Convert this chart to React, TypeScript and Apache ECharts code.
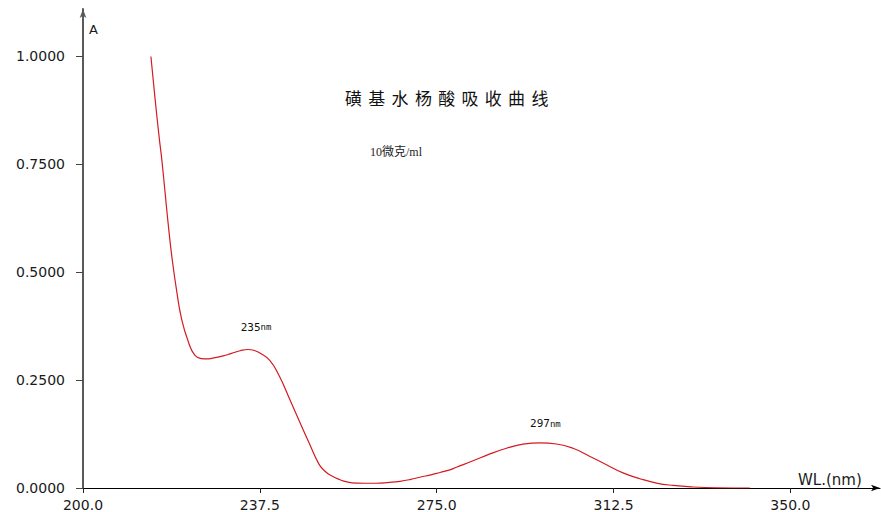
import React, { useEffect, useRef } from "react";
import * as echarts from "echarts";

// Absorption spectrum of sulfosalicylic acid (wavelength in nm, absorbance A)
const wavelengths = [
  214.4, 215.3, 216.2, 216.7, 217.4, 218.1, 218.9, 219.9, 220.9, 222.3,
  223.7, 225.2, 226.2, 227.5, 229.7, 231.5, 233.3, 235.0, 236.5, 237.5,
  239.6, 241.6, 243.9, 246.0, 248.0, 250.0, 251.2, 252.4, 254.5,
  256.0, 258.0, 262.0, 265.0, 267.2, 269.5, 271.4, 274.0, 275.7, 277.8,
  279.2, 282.7, 286.3, 289.8, 293.3, 297.0, 300.4, 303.9, 307.5, 311.0,
  314.5, 318.1, 321.6, 325.1, 329.4, 334.3, 341.4,
];
const absorbance = [
  1.0, 0.9, 0.808, 0.762, 0.685, 0.608, 0.531, 0.454, 0.392, 0.34,
  0.308, 0.3, 0.299, 0.301, 0.306, 0.312, 0.318, 0.321, 0.318, 0.313,
  0.296, 0.26, 0.204, 0.152, 0.103, 0.056, 0.04, 0.03, 0.019,
  0.014, 0.0115, 0.011, 0.013, 0.0155, 0.02, 0.025, 0.031, 0.036, 0.042,
  0.048, 0.063, 0.079, 0.092, 0.1015, 0.1046, 0.102, 0.092, 0.073, 0.054,
  0.035, 0.0215, 0.0115, 0.006, 0.0023, 0.0005, 0.0,
];

// Peak wavelengths annotated on the curve
const peaks = [235, 297];
const peakLabelOffsets: [number, number][] = [
  [8, -22],
  [5, -19],
];

const xTicks = [200, 237.5, 275, 312.5, 350];
const yTicks = [0, 0.25, 0.5, 0.75, 1.0];

const titleText = "磺基水杨酸吸收曲线";
const concentrationText = "10微克/ml";

export default function App() {
  const ref = useRef<HTMLDivElement>(null);

  useEffect(() => {
    if (!ref.current) return;
    const chart = echarts.init(ref.current, undefined, { renderer: "svg" });

    const seriesData = wavelengths.map((w, i) => [w, absorbance[i]]);
    const peakMarks = peaks.map((p, i) => {
      const idx = wavelengths.indexOf(p);
      return {
        coord: [p, absorbance[idx]],
        value: p,
        label: { offset: peakLabelOffsets[i] },
      };
    });

    const titleChars = Array.from(titleText).map((ch, i) => ({
      type: "text",
      left: 345 + i * 23.3,
      top: 89,
      style: {
        text: ch,
        fontSize: 17,
        fontFamily: "Noto Sans CJK SC",
        fill: "#111111",
      },
    }));

    chart.setOption({
      animation: false,
      backgroundColor: "#ffffff",
      grid: { left: 83, right: 1, top: 9, bottom: 22 },
      xAxis: {
        type: "value",
        min: 200,
        max: 369,
        axisLine: {
          show: true,
          symbol: ["none", "arrow"],
          symbolSize: [5, 9],
          lineStyle: { color: "#000000", width: 1.2 },
        },
        axisTick: {
          show: true,
          customValues: xTicks,
          length: 5,
          lineStyle: { color: "#222222", width: 1 },
        },
        axisLabel: {
          customValues: xTicks,
          formatter: (v: number) => v.toFixed(1),
          margin: 10,
          fontFamily: "DejaVu Sans",
          fontSize: 14,
          color: "#1a1a1a",
        },
        splitLine: { show: false },
      },
      yAxis: {
        type: "value",
        min: 0,
        max: 1.11,
        axisLine: {
          show: true,
          symbol: ["none", "arrow"],
          symbolSize: [5, 9],
          lineStyle: { color: "#5a5a5a", width: 2 },
        },
        axisTick: {
          show: true,
          customValues: yTicks,
          length: 7,
          lineStyle: { color: "#444444", width: 1 },
        },
        axisLabel: {
          customValues: yTicks,
          formatter: (v: number) => v.toFixed(4),
          margin: 18,
          fontFamily: "DejaVu Sans",
          fontSize: 14,
          color: "#1a1a1a",
        },
        splitLine: { show: false },
      },
      series: [
        {
          type: "line",
          data: seriesData,
          showSymbol: false,
          smooth: 0.5,
          lineStyle: { color: "#d41a22", width: 1.2 },
          markPoint: {
            symbol: "circle",
            symbolSize: 0,
            data: peakMarks,
            label: {
              show: true,
              position: "inside",
              formatter: (p: any) => `{n|${p.value}}{u|nm}`,
              rich: {
                n: { fontFamily: "DejaVu Sans Mono", fontSize: 11, color: "#111111" },
                u: { fontFamily: "DejaVu Sans Mono", fontSize: 9, color: "#111111" },
              },
            },
          },
        },
      ],
      graphic: [
        {
          type: "text",
          left: 89,
          top: 23,
          style: { text: "A", fontSize: 13, fontFamily: "DejaVu Sans", fill: "#1a1a1a" },
        },
        {
          type: "text",
          left: 798,
          top: 472,
          style: { text: "WL.(nm)", fontSize: 15, fontFamily: "DejaVu Sans", fill: "#1a1a1a" },
        },
        ...titleChars,
        {
          type: "text",
          left: 370,
          top: 146,
          style: {
            text: concentrationText,
            fontSize: 12,
            fontFamily: "Liberation Serif, Noto Sans CJK SC",
            fill: "#222222",
          },
        },
      ],
    });

    return () => chart.dispose();
  }, []);

  return (
    <div
      ref={ref}
      style={{ position: "absolute", left: 0, top: 0, width: 881, height: 512 }}
    />
  );
}
